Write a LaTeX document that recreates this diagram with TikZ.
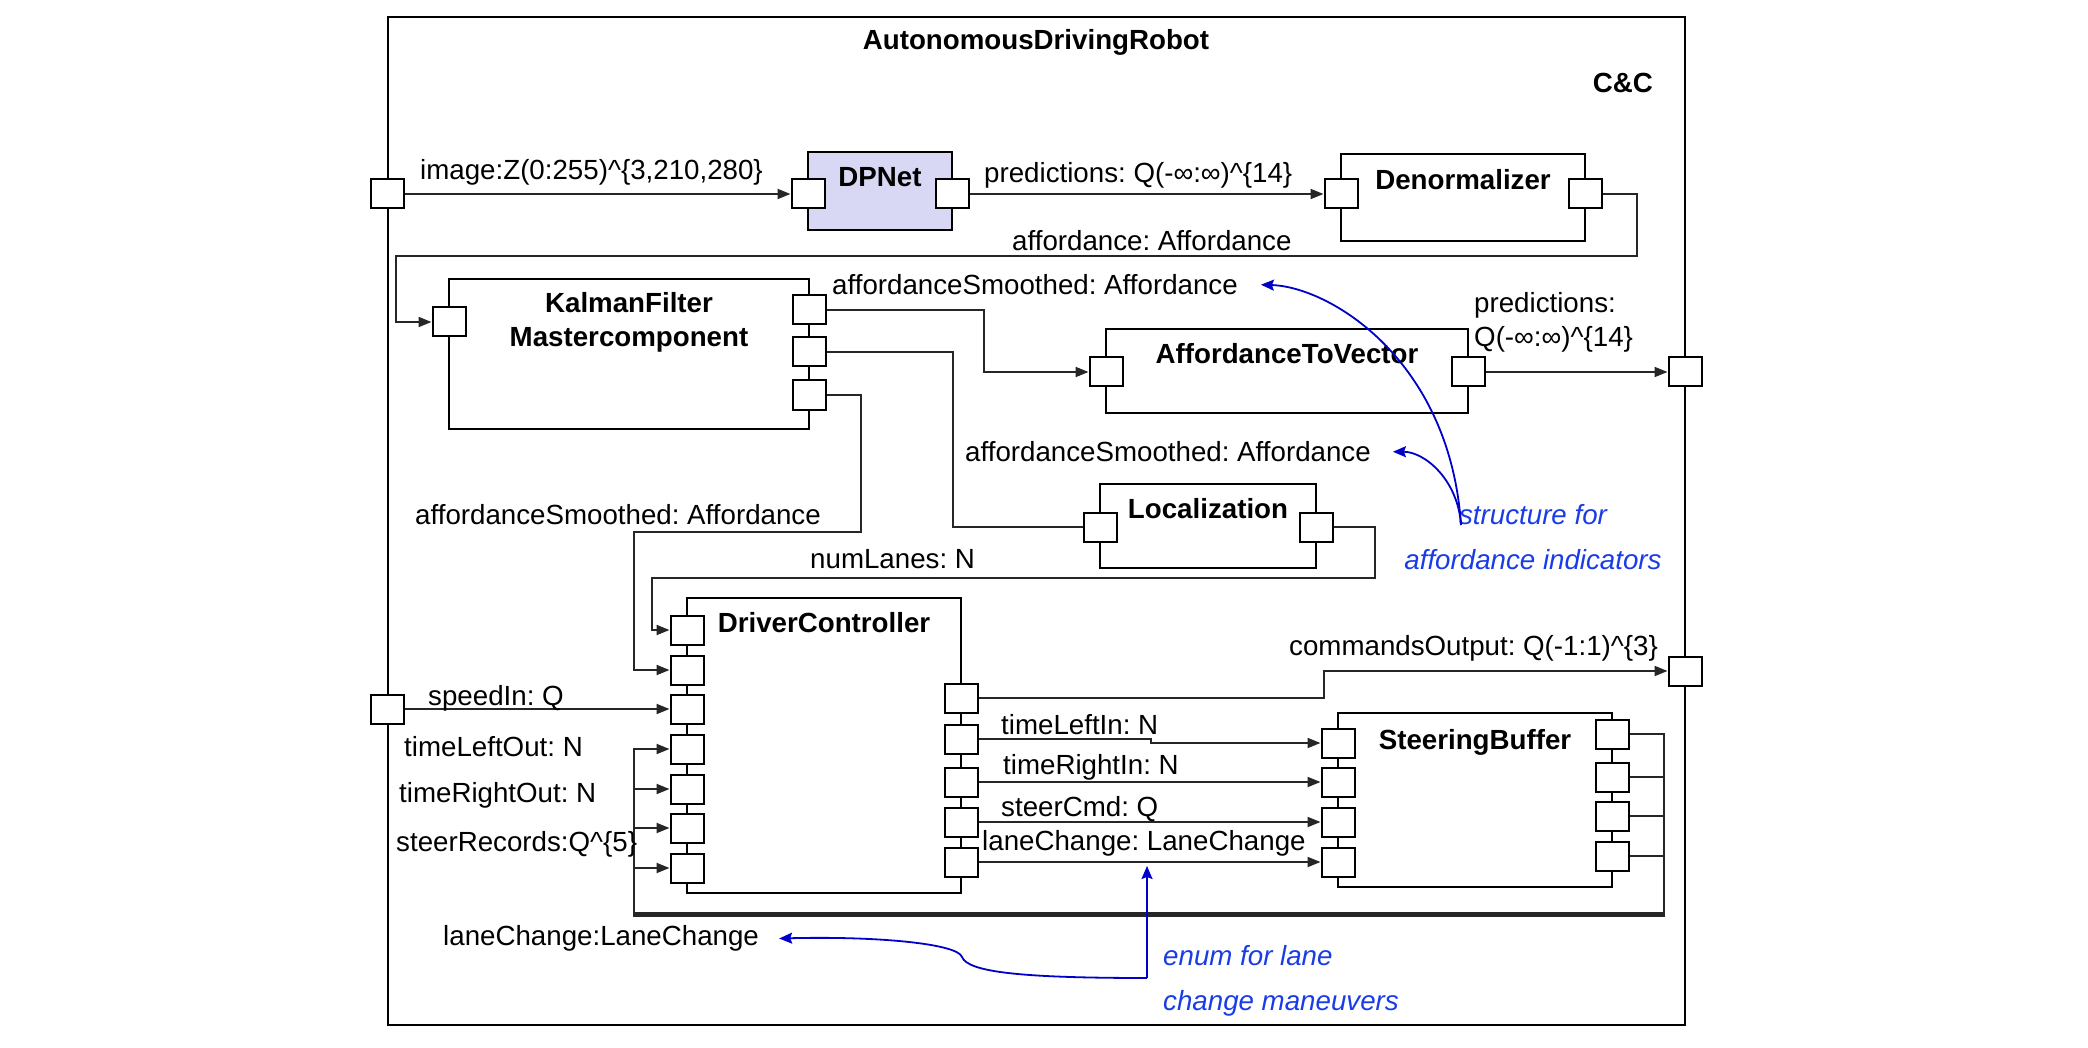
\documentclass[tikz,border=0pt]{standalone}
\usepackage{fontspec}
\setmainfont{Liberation Sans}
\frenchspacing
\usetikzlibrary{arrows.meta, calc}
\definecolor{dpfill}{HTML}{D8D8F4}
\definecolor{noteblue}{HTML}{1A3CE6}
\definecolor{notecurve}{HTML}{0000C8}
\definecolor{wire}{HTML}{262626}
\tikzset{
  every node/.style={font=\fontsize{27.7}{34}\selectfont},
  comp/.style 2 args={draw, line width=2.2pt, inner sep=0pt, minimum width=#1pt, minimum height=#2pt},
  port/.style={draw, fill=white, line width=2pt, inner sep=0pt, minimum width=33pt, minimum height=29pt},
  conn/.style={draw=wire, line width=2pt},
  arr/.style={conn, -{Triangle[length=13pt,width=10pt]}},
  lbl/.style={anchor=mid west, inner sep=0pt, yshift=-7pt},
  ttl/.style={font=\fontsize{27.7}{34}\selectfont\bfseries, inner sep=0pt, anchor=mid, yshift=-7pt},
  note/.style={draw=notecurve, line width=1.8pt, -{Stealth[length=13pt,width=11pt,inset=2pt]}},
  notetext/.style={text=noteblue, font=\fontsize{27.7}{45}\selectfont\itshape, inner sep=0pt}
}
\begin{document}
\begin{tikzpicture}[x=1pt, y=-1pt]
  \useasboundingbox (0,0) rectangle (2088,1048);

  % Outer component
  \node[comp={1297}{1008}, anchor=north west] (robot) at (387,16) {};
  \node[ttl] (robotName) at (1036,40) {AutonomousDrivingRobot};
  \node[ttl, anchor=mid east] (ccTag) at (1653,83) {C\&C};

  % Subcomponents
  \node[comp={144}{78}, fill=dpfill] (dpnet) at (880,191) {};
  \node[comp={244}{87}] (denorm) at (1463,197.5) {};
  \node[comp={360}{150}] (kalman) at (629,354) {};
  \node[comp={362}{84}] (atv) at (1287,371) {};
  \node[comp={216}{84}] (loc) at (1208,526) {};
  \node[comp={274}{295}] (driver) at (824,745.5) {};
  \node[comp={274}{174}] (steer) at (1475,800) {};

  \node[ttl] (dpnetName) at (880,177) {DPNet};
  \node[ttl] (denormName) at (1463,180) {Denormalizer};
  \node[ttl] (kalmanName) at (629,303) {KalmanFilter};
  \node[ttl] (kalmanName2) at (629,337) {Mastercomponent};
  \node[ttl] (atvName) at (1287,354) {AffordanceToVector};
  \node[ttl] (locName) at (1208,509) {Localization};
  \node[ttl] (driverName) at (824,623) {DriverController};
  \node[ttl] (steerName) at (1475,740) {SteeringBuffer};

  % Ports
  \node[port] (imageIn) at (387,194) {};
  \node[port] (dpIn) at (808,194) {};
  \node[port] (dpOut) at (952,194) {};
  \node[port] (dnIn) at (1341,194) {};
  \node[port] (dnOut) at (1585,194) {};
  \node[port] (kfIn) at (449,322) {};
  \foreach \y [count=\i] in {310,352,395}
    \node[port] (kfOut\i) at (809,\y) {};
  \node[port] (atvIn) at (1106,372) {};
  \node[port] (atvOut) at (1468,372) {};
  \node[port] (predOut) at (1685,372) {};
  \node[port] (locIn) at (1100,527) {};
  \node[port] (locOut) at (1316,527) {};
  \foreach \y [count=\i] in {630,670,709,749,789,828,868}
    \node[port] (dcIn\i) at (687,\y) {};
  \foreach \y [count=\i] in {698,739,782,822,862}
    \node[port] (dcOut\i) at (961,\y) {};
  \node[port] (speedIn) at (387,709) {};
  \node[port] (cmdOut) at (1685,671) {};
  \foreach \y [count=\i] in {743,782,822,862}
    \node[port] (sbIn\i) at (1338,\y) {};
  \foreach \y [count=\i] in {734,777,816,856}
    \node[port] (sbOut\i) at (1612,\y) {};

  % Connectors
  \draw[arr] (imageIn.east) -- (dpIn.west);
  \draw[arr] (dpOut.east) -- (dnIn.west);
  \draw[arr] (dnOut.east) -| (1637,256) -| ([xshift=-35.5pt]kfIn.west) -- (kfIn.west);
  \draw[arr] (kfOut1.east) -| ([xshift=-104.5pt]atvIn.west) -- (atvIn.west);
  \draw[arr] (atvOut.east) -- (predOut.west);
  \draw[conn] (kfOut2.east) -| ([xshift=-129.5pt]locIn.west) -- (locIn.west);
  \draw[arr] (locOut.east) -| (1375,578) -| ([xshift=-17.5pt]dcIn1.west) -- (dcIn1.west);
  \draw[arr] (kfOut3.east) -| (861,532) -| ([xshift=-35.5pt]dcIn2.west) -- (dcIn2.west);
  \draw[arr] (speedIn.east) -- (dcIn3.west);
  \draw[arr] (dcOut1.east) -| ([xshift=-343.5pt]cmdOut.west) -- (cmdOut.west);
  \draw[arr] (dcOut2.east) -- ++(172,0) |- (sbIn1.west);
  \foreach \i/\j in {3/2,4/3,5/4}
    \draw[arr] (dcOut\i.east) -- (sbIn\j.west);
  % feedback from the buffer
  \foreach \i/\j/\k in {1/4/0,2/5/1,3/6/2,4/7/3}
    \draw[arr] (sbOut\i.east) -| (1664,{913+\k}) -| ([xshift=-35.5pt]dcIn\j.west) -- (dcIn\j.west);

  % Port labels
  \node[lbl] (imageLbl) at (420,170) {image:Z(0:255)\textasciicircum\{3,210,280\}};
  \node[lbl] (predLbl) at (984,173) {predictions: Q(-∞:∞)\textasciicircum\{14\}};
  \node[lbl] (affLbl) at (1012,241) {affordance: Affordance};
  \node[lbl] (smoothLblA) at (832,285) {affordanceSmoothed: Affordance};
  \node[lbl] (predLbl2) at (1474,303) {predictions:};
  \node[lbl] (predLbl3) at (1474,337) {Q(-∞:∞)\textasciicircum\{14\}};
  \node[lbl] (smoothLblB) at (965,452) {affordanceSmoothed: Affordance};
  \node[lbl] (smoothLblC) at (415,515) {affordanceSmoothed: Affordance};
  \node[lbl] (lanesLbl) at (810,559) {numLanes: N};
  \node[lbl] (speedLbl) at (428,696) {speedIn: Q};
  \node[lbl] (tloLbl) at (404,747) {timeLeftOut: N};
  \node[lbl] (troLbl) at (399,793) {timeRightOut: N};
  \node[lbl] (recLbl) at (396,842) {steerRecords:Q\textasciicircum\{5\}};
  \node[lbl] (laneLbl) at (443,936) {laneChange:LaneChange};
  \node[lbl] (cmdLbl) at (1289,646) {commandsOutput: Q(-1:1)\textasciicircum\{3\}};
  \node[lbl] (tliLbl) at (1001,725) {timeLeftIn: N};
  \node[lbl] (triLbl) at (1003,765) {timeRightIn: N};
  \node[lbl] (steerLbl) at (1001,807) {steerCmd: Q};
  \node[lbl] (laneLbl2) at (982,841) {laneChange: LaneChange};

  % Annotations
  \node[notetext, align=center] (noteAff) at (1533,537) {structure for\\affordance indicators};
  \node[notetext, align=left, anchor=west] (noteLane) at (1163,981) {enum for lane\\change maneuvers};
  \coordinate (affFoot) at (1461,525);
  \coordinate (laneFoot) at (1147,978);
  \draw[note] (affFoot) .. controls +(-11,-165) and +(69,2) .. ([xshift=23pt]smoothLblA.east);
  \draw[note] (affFoot) .. controls +(-3,-45) and +(32,0) .. ([xshift=22pt]smoothLblB.east);
  \draw[note] (laneFoot) -- ++(0,-112);
  \draw[note] (laneFoot) .. controls (1020,978) and (968,972) .. (962,957)
    .. controls (958,944) and (880,936) .. ([xshift=20pt]laneLbl.east);
\end{tikzpicture}
\end{document}
